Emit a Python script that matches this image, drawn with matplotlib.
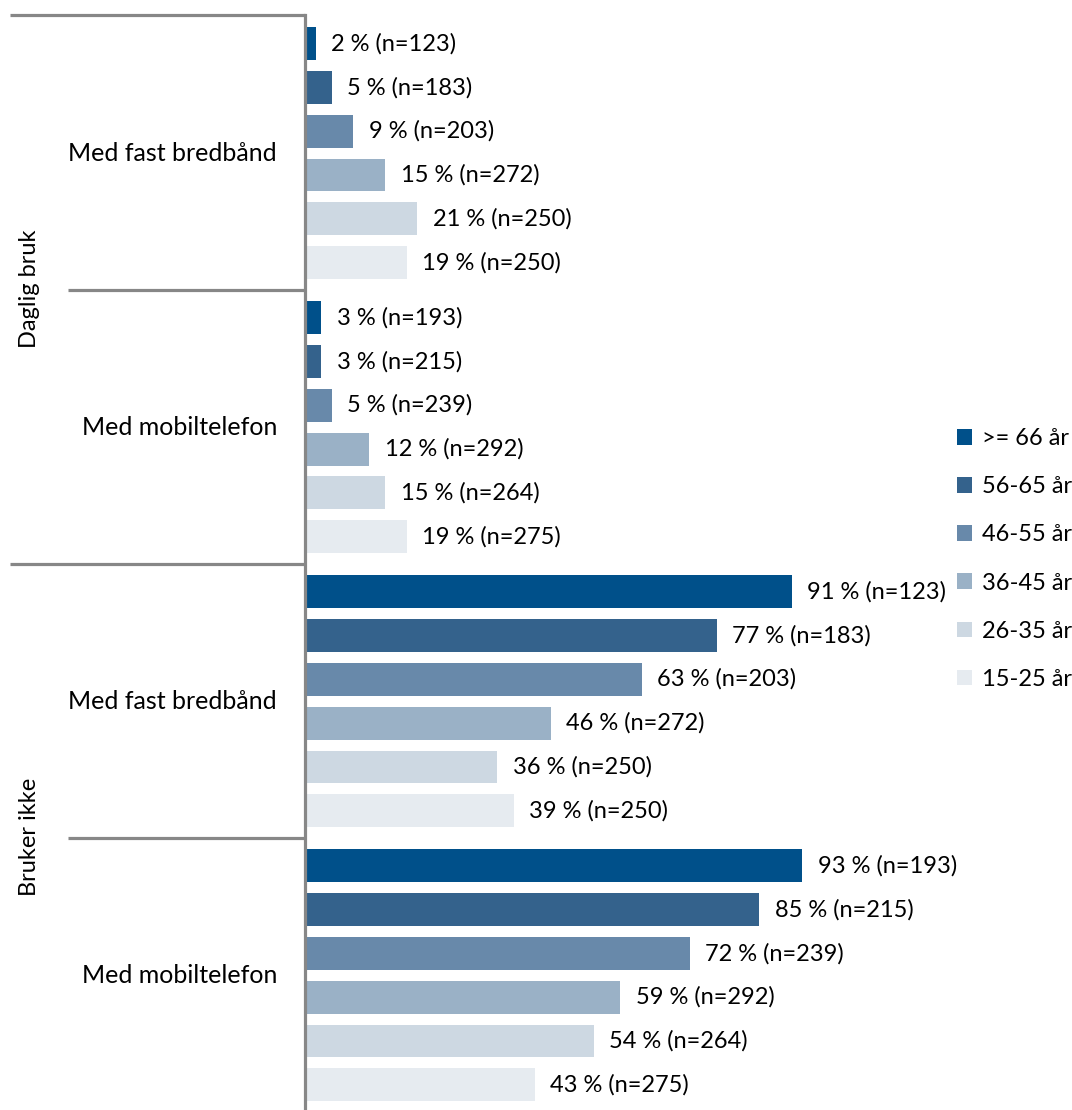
import matplotlib.pyplot as plt
import matplotlib.transforms as mtransforms
from matplotlib.patches import Patch

plt.rcParams['font.family'] = ['Lato', 'DejaVu Sans']

# data
age_groups = [">= 66 år", "56-65 år", "46-55 år", "36-45 år", "26-35 år", "15-25 år"]
colors = ["#00508A", "#34628C", "#6889AA", "#9AB1C6", "#CDD8E2", "#E6EBF0"]

main_groups = ["Daglig bruk", "Bruker ikke"]
sub_groups = ["Med fast bredbånd", "Med mobiltelefon"]

daglig_fast = [2, 5, 9, 15, 21, 19]
daglig_mobil = [3, 3, 5, 12, 15, 19]
ikke_fast = [91, 77, 63, 46, 36, 39]
ikke_mobil = [93, 85, 72, 59, 54, 43]

n_fast = [123, 183, 203, 272, 250, 250]
n_mobil = [193, 215, 239, 292, 264, 275]

series = [
    (daglig_fast, n_fast),
    (daglig_mobil, n_mobil),
    (ikke_fast, n_fast),
    (ikke_mobil, n_mobil),
]

W, H = 1072, 1110
fig = plt.figure(figsize=(W / 100, H / 100), dpi=100)
ax = fig.add_axes([305 / W, 1 - 1109 / H, 540 / W, (1109 - 15) / H])

gray = "#878787"
fs = 17
group_step = 6.25  # groups are a little further apart than the bars inside them

for k, (vals, ns) in enumerate(series):
    for i, (v, n) in enumerate(zip(vals, ns)):
        pos = k * group_step + i
        ax.barh(pos, v, height=0.75, color=colors[i], linewidth=0)
        ax.text(v + 2.9, pos, f"{v} % (n={n})", va="center", ha="left", fontsize=fs)

ax.set_xlim(0, 101)
ax.set_ylim(24.3, -0.65)
ax.set_xticks([])
ax.set_yticks([])
for s in ["top", "right", "bottom"]:
    ax.spines[s].set_visible(False)
ax.spines["left"].set_color(gray)
ax.spines["left"].set_linewidth(2.3)

# category lines and labels on the left
trans = mtransforms.blended_transform_factory(fig.transFigure, ax.transData)
x_axis = 305 / W
seps = [-0.65] + [k * group_step - 0.625 for k in (1, 2, 3)]
for y, x0 in zip(seps, [10, 68, 10, 68]):
    ax.plot([x0 / W, x_axis], [y, y], color=gray, lw=2.3, transform=trans,
            clip_on=False, solid_capstyle="butt")

for k, name in enumerate(sub_groups * 2):
    ax.text(277 / W, 2.5 + group_step * k, name, transform=trans, ha="right",
            va="center", fontsize=18)

ax.text(30 / W, 5.6, main_groups[0], transform=trans, rotation=90,
        ha="center", va="center", fontsize=fs)
ax.text(30 / W, 18.1, main_groups[1], transform=trans, rotation=90,
        ha="center", va="center", fontsize=fs)

handles = [Patch(facecolor=c, edgecolor="none") for c in colors]
fig.legend(handles, age_groups, loc="center left", bbox_to_anchor=(957 / W, 1 - 559 / H),
           frameon=False, fontsize=fs, handlelength=0.65, handleheight=0.65,
           handletextpad=0.4, labelspacing=1.15, borderpad=0, borderaxespad=0)

fig.savefig("out.png", dpi=100)
